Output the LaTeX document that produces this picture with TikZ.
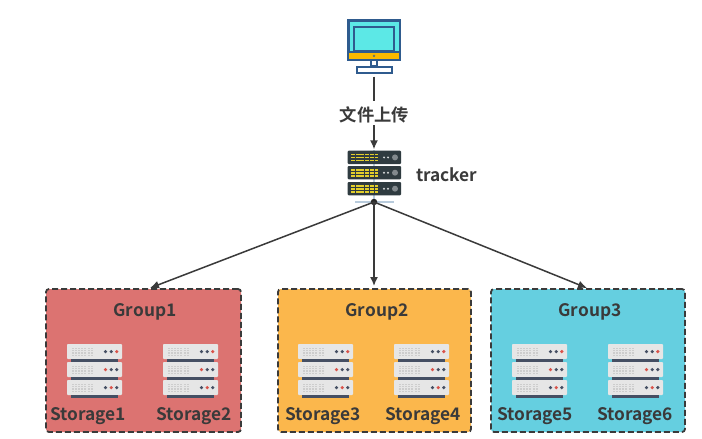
\documentclass[tikz,border=0pt]{standalone}
\usepackage{fontspec}
\setmainfont{Noto Sans CJK SC}[BoldFont={Noto Sans CJK SC Bold}]
\usetikzlibrary{arrows.meta}
\definecolor{ink}{HTML}{3A3A3A}
\definecolor{gred}{HTML}{DC7371}
\definecolor{gyellow}{HTML}{FBB74C}
\definecolor{gcyan}{HTML}{65CFE0}
\definecolor{srvlight}{HTML}{E6E6E6}
\definecolor{srvstrip}{HTML}{454F63}
\definecolor{srvred}{HTML}{D9534A}
\definecolor{srvdot}{HTML}{CDCDCD}
\definecolor{monblue}{HTML}{2F5B8E}
\definecolor{moncyan}{HTML}{5CE8E6}
\definecolor{monyellow}{HTML}{FBB900}
\definecolor{trkdark}{HTML}{2F3B40}
\definecolor{trkyellow}{HTML}{E3CF2B}
\definecolor{trkline}{HTML}{B8CBDC}
\tikzset{
  x=1pt,y=-1pt,
  group/.style={draw=ink,line width=1.8pt,dash pattern=on 6pt off 3pt,rounded corners=3pt},
  lbl/.style={text=ink,font=\bfseries\fontsize{17.3}{17.3}\selectfont,inner sep=0pt},
  conn/.style={draw=ink,line width=1.5pt,-{Latex[length=9pt,width=8pt]}},
  plain/.style={draw=ink,line width=1.5pt},
  icon/.style={inner sep=0pt,minimum width=#1,minimum height=#1},
}
\newcommand{\srvrow}[5]{%
  \fill[srvlight,rounded corners=0.8pt] (#1,#2) rectangle ++(55,15);
  \fill[srvstrip] ({#1+4},{#2+15}) rectangle ++(47,2.6);
  \foreach \gi in {0,...,6}{\foreach \gj in {0,...,3}{%
    \fill[srvdot] ({#1+4.5+\gi*3.2},{#2+3.5+\gj*2.4}) rectangle ++(2,1.5);}}
  \fill[#3] ({#1+38.5},{#2+7.6}) circle (1.8);
  \fill[#4] ({#1+44.2},{#2+7.6}) circle (1.8);
  \fill[#5] ({#1+49.8},{#2+7.6}) circle (1.8);
}
\newcommand{\storagebox}[2]{%
  \srvrow{#1}{#2}{srvstrip}{srvstrip}{srvred}
  \srvrow{#1}{#2+18}{srvred}{srvstrip}{srvstrip}
  \srvrow{#1}{#2+36}{srvstrip}{srvred}{srvstrip}
}
\newcommand{\trkrow}[1]{%
  \fill[trkdark,rounded corners=1pt] (347.7,#1) rectangle (401,{#1+13.3});
  \foreach \gi in {0,...,5}{\foreach \gj in {0,1,2}{%
    \fill[trkyellow] ({351+\gi*4.7},{#1+3.2+\gj*3}) rectangle ++(3.8,1.5);}}
  \fill[white!80!trkdark] (384,{#1+6.7}) circle (1.1);
  \fill[white!80!trkdark] (388,{#1+6.7}) circle (1.1);
  \fill[white!40!trkdark] (395,{#1+6.7}) circle (3);
}
\begin{document}
\begin{tikzpicture}
\useasboundingbox (0,0) rectangle (702,439);
\fill[white] (0,0) rectangle (702,439);

\node[group,fill=gred,minimum width=195pt,minimum height=143pt,anchor=north west,inner sep=0pt,outer sep=0pt] (g1) at (46,289) {};
\node[group,fill=gyellow,minimum width=193pt,minimum height=143pt,anchor=north west,inner sep=0pt,outer sep=0pt] (g2) at (278,289) {};
\node[group,fill=gcyan,minimum width=194pt,minimum height=143pt,anchor=north west,inner sep=0pt,outer sep=0pt] (g3) at (491,289) {};

\node[lbl] (g1t) at (145,312) {Group1};
\node[lbl] (g2t) at (377,312) {Group2};
\node[lbl] (g3t) at (590,312) {Group3};

\storagebox{67}{344}
\storagebox{163}{344}
\storagebox{298}{344}
\storagebox{394}{344}
\storagebox{512}{344}
\storagebox{608}{344}

\node[lbl] (s1) at (88,416) {Storage1};
\node[lbl] (s2) at (194,416) {Storage2};
\node[lbl] (s3) at (323,416) {Storage3};
\node[lbl] (s4) at (423,416) {Storage4};
\node[lbl] (s5) at (535,416) {Storage5};
\node[lbl] (s6) at (635,416) {Storage6};

% monitor
\fill[moncyan,draw=monblue,line width=2.2pt] (348.5,20.5) rectangle (400,59.7);
\fill[monyellow,draw=monblue,line width=1.6pt] (348.5,52) rectangle (400,59.7);
\draw[monblue,line width=2.2pt] (354,27) rectangle (394,51.5);
\draw[monblue,line width=1.6pt] (371,60) rectangle (377,66);
\fill[white,draw=monblue,line width=2pt] (357,66.5) rectangle (391.5,73);
\draw[monblue,line width=.4pt] (374,55.8) circle (1);
\node[icon=1pt] (pc) at (374,76) {};

% tracker
\draw[trkline,line width=1.2pt] (374,150) -- (374,202);
\draw[trkline,line width=1.5pt] (355,202) -- (394,202);
\trkrow{150.7}
\trkrow{166}
\trkrow{182}
\node[icon=1pt] (trk) at (374,150) {};
\node[circle,fill=black!85,inner sep=0pt,minimum size=6.5pt] (hub) at (374,202) {};

\node[lbl] (up) at (374.5,115) {文件上传};
\node[lbl,anchor=west] (trklbl) at (416,175) {tracker};

\draw[plain] (pc) -- (374,101) coordinate (upin);
\draw[conn] (374,125) coordinate (upout) -- (trk);
\coordinate (a1) at (150,288);
\coordinate (a2) at (374,286);
\coordinate (a3) at (587,288);
\draw[conn] (hub.center) -- (a1);
\draw[conn] (hub.center) -- (a2);
\draw[conn] (hub.center) -- (a3);
\end{tikzpicture}
\end{document}
